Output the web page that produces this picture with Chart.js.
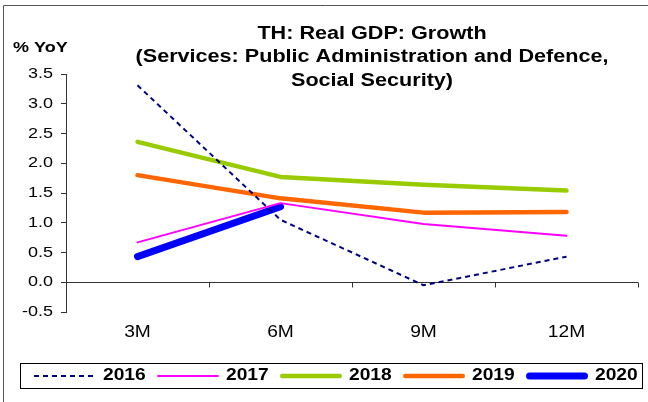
<!DOCTYPE html>
<html><head><meta charset="utf-8">
<script src="https://cdn.jsdelivr.net/npm/chart.js@4"></script>
<style>html,body{margin:0;padding:0;background:#fff;}canvas{display:block;}</style>
</head><body>
<canvas id="c" width="648" height="402"></canvas>
<script>
// ---- data ----
const categories = ['3M', '6M', '9M', '12M'];
const y2016 = [3.31, 1.05, -0.05, 0.43];
const y2017 = [0.67, 1.33, 0.98, 0.78];
const y2018 = [2.36, 1.77, 1.64, 1.54];
const y2019 = [1.80, 1.41, 1.17, 1.18];
const y2020 = [0.43, 1.27];
const seriesNames = ['2016', '2017', '2018', '2019', '2020'];
const yMin = -0.5, yMax = 3.5, yStep = 0.5;
const titleLines = ['TH: Real GDP: Growth', '(Services: Public Administration and Defence,', 'Social Security)'];
const yAxisTitle = '% YoY';

// ---- horizontally widened text (reference glyphs are stretched) ----
const canvas = document.getElementById('c');
const ctx = canvas.getContext('2d');
const SX = 1.2;
const origFill = ctx.fillText;
const origMeasure = ctx.measureText;
ctx.fillText = function (t, x, y, mw) {
  this.save(); this.translate(x, y); this.scale(SX, 1);
  if (mw === undefined) origFill.call(this, t, 0, 0); else origFill.call(this, t, 0, 0, mw / SX);
  this.restore();
};
ctx.measureText = function (t) {
  const m = origMeasure.call(this, t);
  return { width: m.width * SX, actualBoundingBoxAscent: m.actualBoundingBoxAscent,
    actualBoundingBoxDescent: m.actualBoundingBoxDescent,
    actualBoundingBoxLeft: m.actualBoundingBoxLeft * SX, actualBoundingBoxRight: m.actualBoundingBoxRight * SX };
};

const FONT = '"Liberation Sans", Arial, sans-serif';

const frame = {
  id: 'frame',
  beforeDraw(chart) {
    const c = chart.ctx;
    c.save(); c.strokeStyle = '#555'; c.lineWidth = 1;
    c.beginPath(); c.moveTo(3.5, 402); c.lineTo(3.5, 5.5); c.lineTo(648, 5.5); c.stroke();
    c.restore();
  }
};

const zeroAxis = {
  id: 'zeroAxis',
  beforeDatasetsDraw(chart) {
    const c = chart.ctx, a = chart.chartArea, x = chart.scales.x, y = chart.scales.y;
    const y0 = Math.round(y.getPixelForValue(0)) + 0.5;
    c.save(); c.strokeStyle = '#333'; c.lineWidth = 1; c.beginPath();
    c.moveTo(a.left, y0); c.lineTo(a.right, y0);
    for (let i = 0; i < categories.length; i++) {
      const px = Math.round(x.getPixelForValue(i + 0.5)) + 0.5;
      c.moveTo(px, y0); c.lineTo(px, y0 + 5);
    }
    c.stroke(); c.restore();
  }
};

const texts = {
  id: 'texts',
  afterDraw(chart) {
    const c = chart.ctx;
    c.save(); c.fillStyle = '#000'; c.textBaseline = 'middle';
    c.font = 'bold 18px ' + FONT; c.textAlign = 'center';
    const ys = [34, 57.5, 81];
    titleLines.forEach((t, i) => c.fillText(t, 372, ys[i]));
    c.font = 'bold 15px ' + FONT; c.textAlign = 'left';
    c.fillText(yAxisTitle, 13, 48);
    c.restore();
  }
};

const legendBox = {
  id: 'legendBox',
  afterDraw(chart) {
    const c = chart.ctx;
    c.save();
    c.strokeStyle = '#000'; c.lineWidth = 1;
    c.strokeRect(20.5, 363.5, 622, 25);
    const cy = 376;
    chart.data.datasets.forEach((ds, i) => {
      const x0 = 34 + i * 123, x1 = x0 + 62;
      c.save();
      c.strokeStyle = ds.borderColor; c.lineWidth = ds.borderWidth;
      c.setLineDash(ds.borderDash || []); c.lineCap = ds.borderDash ? 'butt' : 'round';
      const inset = ds.borderDash ? 0 : ds.borderWidth / 2;
      c.beginPath(); c.moveTo(x0 + inset, cy); c.lineTo(x1 - inset, cy); c.stroke();
      c.restore();
      c.fillStyle = '#000'; c.font = 'bold 16px ' + FONT;
      c.textAlign = 'left'; c.textBaseline = 'middle';
      c.fillText(ds.label, x1 + 7, cy);
    });
    c.restore();
  }
};

const seriesValues = [y2016, y2017, y2018, y2019, y2020];
const seriesStyle = [
  { color: '#000080', width: 2, dash: [5, 4] },
  { color: '#FF00FF', width: 2 },
  { color: '#99CC00', width: 4.5 },
  { color: '#FF6600', width: 4.5 },
  { color: '#0000FF', width: 7 }
];

new Chart(ctx, {
  type: 'line',
  data: {
    labels: categories,
    datasets: seriesNames.map((n, i) => ({
      label: n,
      data: seriesValues[i],
      borderColor: seriesStyle[i].color,
      backgroundColor: seriesStyle[i].color,
      borderWidth: seriesStyle[i].width,
      borderDash: seriesStyle[i].dash,
      borderCapStyle: seriesStyle[i].dash ? 'butt' : 'round',
      borderJoinStyle: 'round',
      pointRadius: 0, pointHoverRadius: 0,
      tension: 0, fill: false
    }))
  },
  options: {
    responsive: false, animation: false, devicePixelRatio: 1,
    events: [],
    layout: { padding: { left: 0, right: 10, top: 74, bottom: 50 } },
    plugins: { legend: { display: false }, title: { display: false }, tooltip: { enabled: false } },
    scales: {
      x: {
        type: 'category', offset: true,
        grid: { display: false, drawTicks: false },
        border: { display: false },
        ticks: { color: '#000', font: { family: FONT, size: 16 }, padding: 11, maxRotation: 0 },
        afterFit(s) { s.height = 40; }
      },
      y: {
        min: yMin, max: yMax,
        grid: { drawOnChartArea: false, drawTicks: true, tickLength: 5, color: '#333' },
        border: { display: true, color: '#333' },
        ticks: { stepSize: yStep, color: '#000', font: { family: FONT, size: 15 }, padding: 8,
          callback: v => v.toFixed(1) },
        afterFit(s) { s.width = 66; }
      }
    }
  },
  plugins: [frame, zeroAxis, texts, legendBox]
});
</script>
</body></html>
